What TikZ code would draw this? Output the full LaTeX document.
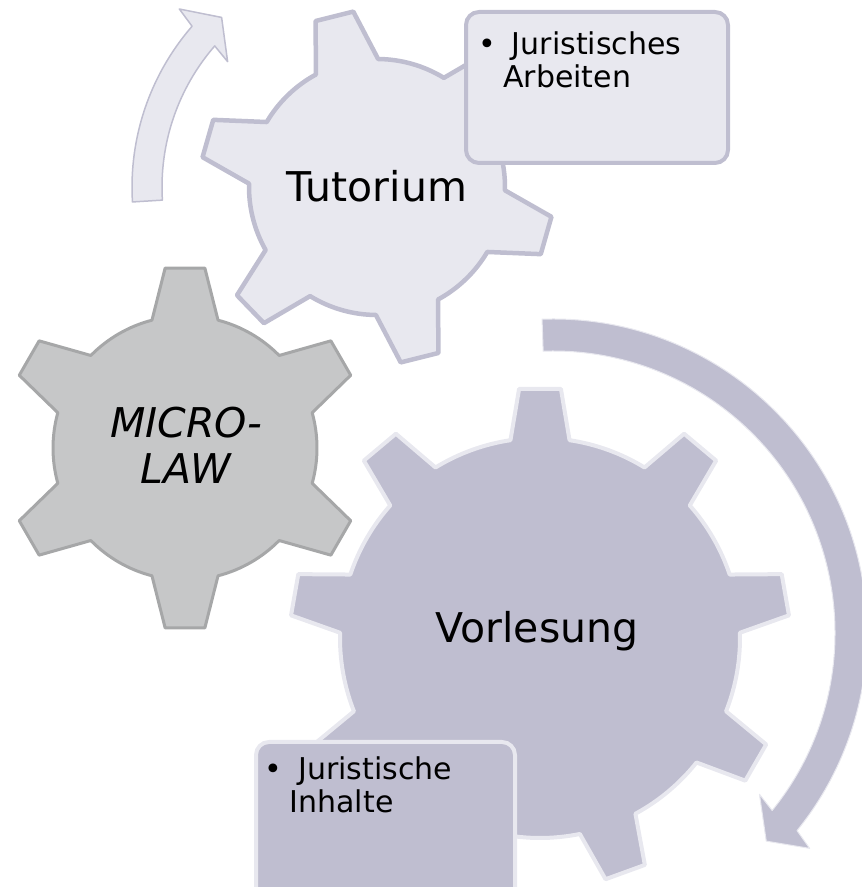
\documentclass[tikz,border=0pt]{standalone}
\usepackage{fontspec}
\setmainfont{DejaVu Sans}
\usepackage{tikz}
\usetikzlibrary{positioning}

\definecolor{lilahell}{HTML}{E8E8EF}
\definecolor{lila}{HTML}{BFBED0}
\definecolor{grau}{HTML}{C6C7C8}
\definecolor{graurand}{HTML}{A6A7A8}

\begin{document}
\begin{tikzpicture}[x=1pt, y=1pt,
        zahnrad/.style={line join=round},
        kasten/.style={rectangle, rounded corners=13pt, line width=4pt, inner sep=0pt, anchor=north west},
        kastentext/.style={inner sep=0pt, align=left, font=\fontsize{30}{33}\selectfont},
        radtext/.style={inner sep=0pt, align=center, font=\fontsize{41}{46}\selectfont}]

        % Rahmen
        \useasboundingbox (0,0) rectangle (862,887);
        \clip (0,0) rectangle (862,887);

        % Zahnräder: Mitte, Zähne, Startwinkel, Fuß-/Kopfradius, halbe Zahnwinkel, Farben, Linie
        \foreach \cx/\cy/\n/\s/\r/\R/\ar/\at/\fc/\dc/\lw in {
            185/439/6/90/132/181/14.5/6.3/grau/graurand/3pt,
            377/700/6/104/128/177/14.5/6.3/lilahell/lila/4.5pt,
            540/249/9/90/200/250/8.5/4.8/lila/lilahell/4pt}
        {
            \pgfmathsetmacro{\st}{360/\n}

            \draw[zahnrad, shift={(\cx,\cy)}, fill=\fc, draw=\dc, line width=\lw]
                ({\s+\ar}:\r)
                \foreach \i in {1,...,\n}{
                    arc[start angle={\s+(\i-1)*\st+\ar}, end angle={\s+\i*\st-\ar}, radius=\r]
                    -- ({\s+\i*\st-\at}:\R) -- ({\s+\i*\st+\at}:\R) -- ({\s+\i*\st+\ar}:\r)
                } -- cycle;
        }

        % Kreispfeil oben links
        \draw[fill=lilahell, draw=lila, line width=1.5pt, line join=round, shift={(377,700)}]
            (183.5:245) arc[start angle=183.5, end angle=139, radius=245]
            -- (138:266) -- (132.5:230) -- (140:195) -- (139:215)
            arc[start angle=139, end angle=183.5, radius=215] -- cycle;

        % Kreispfeil rechts
        \draw[fill=lila, draw=lilahell, line width=1pt, line join=round, shift={(553,254)}]
            (92:314) arc[start angle=92, end angle=-39, radius=314]
            -- (-40:335) -- (-44.3:298) -- (-38:262) -- (-39:282)
            arc[start angle=-39, end angle=92, radius=282] -- cycle;

        % Beschriftung der Räder
        \node[radtext, font=\fontsize{41}{46}\selectfont\itshape] (micro) at (186,442) {MICRO-\\LAW};
        \node[radtext, anchor=base] (tutorium) at (377,685) {Tutorium};
        \node[radtext, anchor=base] (vorlesung) at (537,244) {Vorlesung};

        % Kästen
        \node[kasten, fill=lilahell, draw=lila, minimum width=262pt, minimum height=151pt] (arbeiten) at (464,877) {};
        \node[kastentext, below right=22pt and 14pt of arbeiten.north west] (arbeitentext)
            {•\hspace{16pt}Juristisches\\\hspace*{25pt}Arbeiten};

        \node[kasten, fill=lila, draw=lilahell, minimum width=259pt, minimum height=160pt] (inhalte) at (254,147) {};
        \node[kastentext, below right=17pt and 10.5pt of inhalte.north west] (inhaltetext)
            {•\hspace{16pt}Juristische\\\hspace*{25pt}Inhalte};
    \end{tikzpicture}
\end{document}
